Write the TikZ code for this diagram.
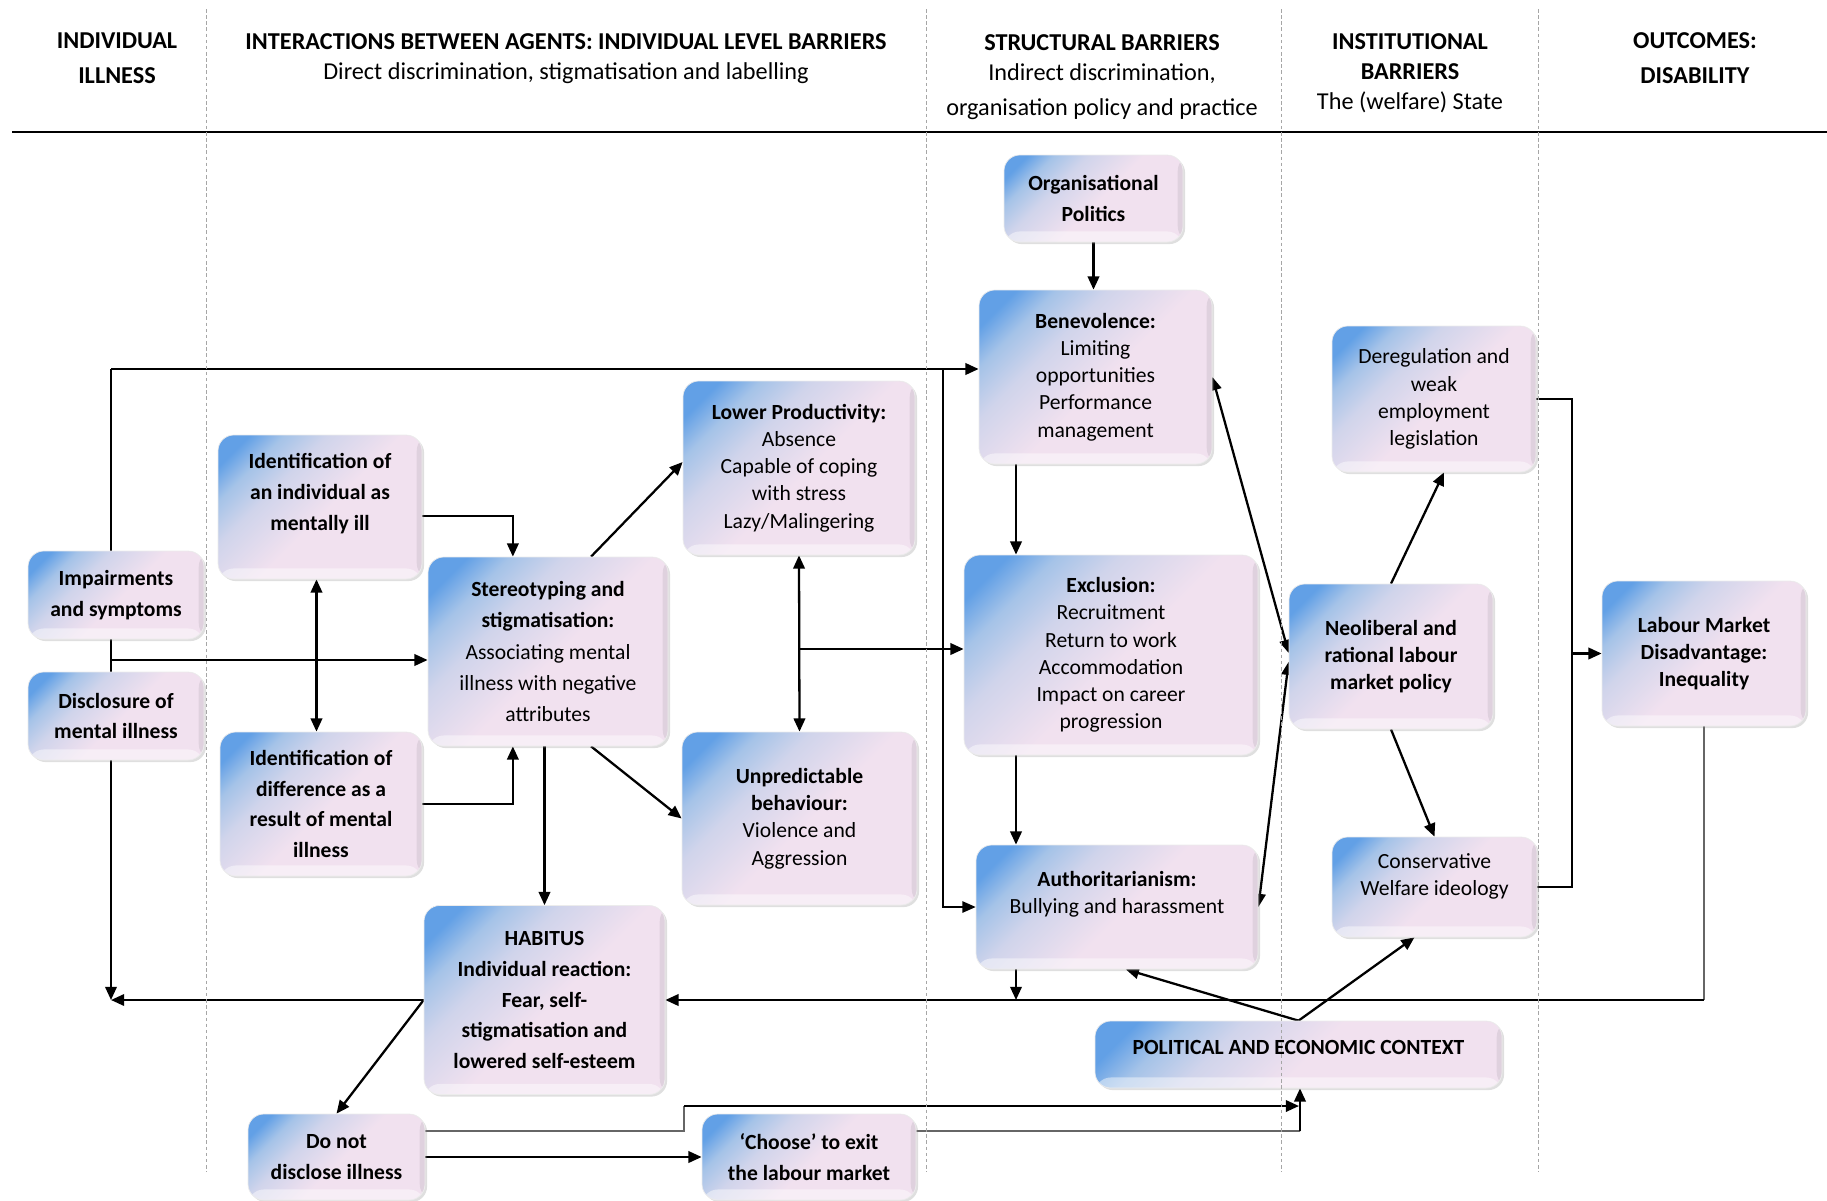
\documentclass[tikz,border=0pt]{standalone}
\usepackage{fontspec}
\setmainfont{Carlito}
\usetikzlibrary{arrows.meta, positioning, calc, shadows, backgrounds}

\definecolor{bxblue}{RGB}{98,160,230}
\definecolor{bxmid}{RGB}{165,195,232}
\definecolor{bxlav}{RGB}{208,212,235}
\definecolor{bxpink}{RGB}{241,225,239}
\pgfdeclarehorizontalshading{boxshade}{100bp}{color(0bp)=(bxblue); color(21bp)=(bxblue); color(28bp)=(bxmid); color(37bp)=(bxlav); color(52bp)=(bxpink); color(100bp)=(bxpink)}

\newcommand\bxfont{\fontsize{12.3}{15.5}\selectfont}
\newcommand\bxwide{\fontsize{12.3}{17.6}\selectfont\bfseries}
\newcommand\hdfont{\fontsize{13.8}{17.2}\selectfont}

\tikzset{
  box/.style 2 args={rounded corners=9pt, shade, shading=boxshade, shading angle=-45,
    draw=white!85!gray, line width=0.4pt, align=center, inner sep=2pt, font=\bxfont,
    minimum width=#1*0.02cm, minimum height=#2*0.02cm,
    drop shadow={shadow xshift=1.2pt, shadow yshift=-1.2pt, opacity=0.25},
    path picture={
      \fill[white, opacity=0.45] ([yshift=6pt]path picture bounding box.south west) rectangle (path picture bounding box.south east);
      \fill[black, opacity=0.07] ([xshift=-3pt]path picture bounding box.north east) rectangle (path picture bounding box.south east);
    }},
  hd/.style={align=center, font=\hdfont, inner sep=0pt},
  arr/.style={-{Triangle[length=7.5pt,width=6.5pt]}, line width=1.3pt},
  arr2/.style={{Triangle[length=7.5pt,width=6.5pt]}-{Triangle[length=7.5pt,width=6.5pt]}, line width=1.3pt},
  tline/.style={line width=0.6pt},
  gline/.style={line width=1.1pt, black!60},
  sep/.style={gray!70, line width=0.4pt, dash pattern=on 2pt off 1.5pt}
}

\begin{document}
\begin{tikzpicture}[x=0.02cm, y=-0.02cm]
  \useasboundingbox (0,0) rectangle (1827,1201);

  % column headings
  \node[hd] (h1) at (117,58.5) {\textbf{INDIVIDUAL}\\[2.7pt]\textbf{ILLNESS}};
  \node[hd] (h2) at (566,59) {\textbf{INTERACTIONS BETWEEN AGENTS: INDIVIDUAL LEVEL BARRIERS}\\Direct discrimination, stigmatisation and labelling};
  \node[hd] (h3) at (1102,77) {\textbf{STRUCTURAL BARRIERS}\\Indirect discrimination,\\[2.7pt]organisation policy and practice};
  \node[hd] (h4) at (1410,73.5) {\textbf{INSTITUTIONAL}\\\textbf{BARRIERS}\\The (welfare) State};
  \node[hd] (h5) at (1695,58.5) {\textbf{OUTCOMES:}\\[2.7pt]\textbf{DISABILITY}};
  \draw[line width=1.2pt] (12,132) -- (1827,132);

  % individual level
  \node[box={176}{88}, font=\bxwide] (imp) at (116,595) {Impairments\\and symptoms};
  \node[box={176}{88}, font=\bxwide] (disc) at (116,716) {Disclosure of\\mental illness};
  \node[box={204}{144}, font=\bxwide, text depth=17.5pt] (idind) at (320,507) {Identification of\\an individual as\\mentally ill};
  \node[box={202}{144}, font=\bxwide] (iddiff) at (321,804) {Identification of\\difference as a\\result of mental\\illness};
  \node[box={240}{189}, font=\bxfont\linespread{1.14}\selectfont] (stereo) at (548,651.5) {\textbf{Stereotyping and}\\\textbf{stigmatisation:}\\Associating mental\\illness with negative\\attributes};
  \node[box={232}{174}] (lowprod) at (799,468) {\textbf{Lower Productivity:}\\Absence\\Capable of coping\\with stress\\Lazy/Malingering};
  \node[box={235}{173}] (unpred) at (799.5,818.5) {\textbf{Unpredictable}\\\textbf{behaviour:}\\Violence and\\Aggression};
  \node[box={241}{189}, font=\bxwide] (habitus) at (544.5,1000) {HABITUS\\Individual reaction:\\Fear, self-\\stigmatisation and\\lowered self-esteem};
  \node[box={177}{86}, font=\bxwide] (donot) at (336.5,1157) {Do not\\disclose illness};
  \node[box={214}{86}, font=\bxwide] (choose) at (809,1157) {‘Choose’ to exit\\the labour market};

  % structural level
  \node[box={179}{87}, font=\bxwide] (orgpol) at (1093.5,198.5) {Organisational\\Politics};
  \node[box={233}{174}] (benev) at (1095.5,377) {\textbf{Benevolence:}\\Limiting\\opportunities\\Performance\\management};
  \node[box={294}{200}] (excl) at (1111,655) {\textbf{Exclusion:}\\Recruitment\\Return to work\\Accommodation\\Impact on career\\progression};
  \node[box={282}{124}, text depth=16.7pt] (auth) at (1117,907) {\textbf{Authoritarianism:}\\Bullying and harassment};
  \node[box={407}{67}, font=\bxwide, text depth=8pt] (polctx) at (1298.5,1054.5) {POLITICAL AND ECONOMIC CONTEXT};

  % institutional level and outcome
  \node[box={204}{146}] (dereg) at (1434,399) {Deregulation and\\weak\\employment\\legislation};
  \node[box={204}{145}, font=\bxfont\bfseries] (neolib) at (1391,656.5) {Neoliberal and\\rational labour\\market policy};
  \node[box={205}{100}, text depth=14.4pt] (conserv) at (1434.5,887) {Conservative\\Welfare ideology};
  \node[box={204}{145}, font=\bxfont\bfseries] (lmd) at (1704,653.5) {Labour Market\\Disadvantage:\\Inequality};

  \begin{scope}[on background layer]
    \coordinate (tt) at (111,369);
    \coordinate (ts) at (111,660);
    \coordinate (tb) at (111,1000);
    \coordinate (vb) at (943,369);
    \coordinate (lj) at (799,649);
    \coordinate (ex) at (1016,0);
    \coordinate (rx) at (1572,0);
    \coordinate (dk) at (684,1106);
    \coordinate (dj) at (1299,1106);
    \coordinate (cj) at (1300,1131);

    \draw[arr] (tt) -- (tb);
    \draw[arr] (tt) -- (tt -| benev.west);
    \draw[arr] (ts) -- (ts -| stereo.west);
    \draw[tline, -{Triangle[length=7.5pt,width=6.5pt]}] (vb) |- (auth.west);
    \draw[arr] (habitus.west) -- (tb);
    \draw[arr] (habitus.west) -- (donot.north);

    \draw[arr] ([yshift=-5pt]idind.east) -| ([xshift=-20pt]stereo.north);
    \draw[arr] (iddiff.east) -| ([xshift=-20pt]stereo.south);
    \draw[arr2] ([xshift=-2pt]idind.south) -- ([xshift=-2pt]idind.south |- iddiff.north);
    \draw[arr] ([xshift=24.5pt]stereo.north) -- ([yshift=3.4pt]lowprod.west);
    \draw[arr] ([xshift=24.5pt]stereo.south) -- (unpred.west);
    \draw[arr] (stereo.south -| habitus.north) -- (habitus.north);
    \draw[arr2] (lowprod.south) -- (unpred.north);
    \draw[arr] (lj) -- (lj -| excl.west);

    \draw[arr] (orgpol.south) -- (orgpol.south |- benev.north);
    \draw[arr] (benev.south -| ex) -- (excl.north -| ex);
    \draw[arr] (excl.south -| ex) -- (auth.north -| ex);
    \draw[arr] (auth.south -| ex) -- (ex |- habitus.east);
    \draw[gline] (lmd.south) -- (lmd.south |- habitus.east);
    \draw[arr] (lmd.south |- habitus.east) -- (habitus.east);

    \draw[arr2] (benev.east) -- ([yshift=2pt]neolib.west);
    \draw[arr2] (auth.east) -- ([yshift=-3pt]neolib.west);
    \draw[arr] (neolib.north) -- ([xshift=5.7pt]dereg.south);
    \draw[arr] (neolib.south) -- (conserv.north);
    \draw[tline] (dereg.east) -| (rx |- lmd.west);
    \draw[tline] (conserv.east) -| (rx |- lmd.west);
    \draw[arr] (rx |- lmd.west) -- (lmd.west);
    \draw[arr] (polctx.north) -- ([xshift=5pt]auth.south);
    \draw[arr] (polctx.north) -- ([xshift=-11.4pt]conserv.south);

    \draw[arr] (donot.east) -- (choose.west);
    \draw[gline] ([yshift=14.8pt]donot.east) -| (dk);
    \draw[arr] (dk) -- (dj);
    \draw[gline] ([yshift=14.8pt]choose.east) -- (cj);
    \draw[arr] (cj) -- (cj |- polctx.south);
  \end{scope}

  % column separators
  \foreach \x in {206,926,1281,1538}
    \draw[sep] (\x,9) -- (\x,1172);
\end{tikzpicture}
\end{document}
